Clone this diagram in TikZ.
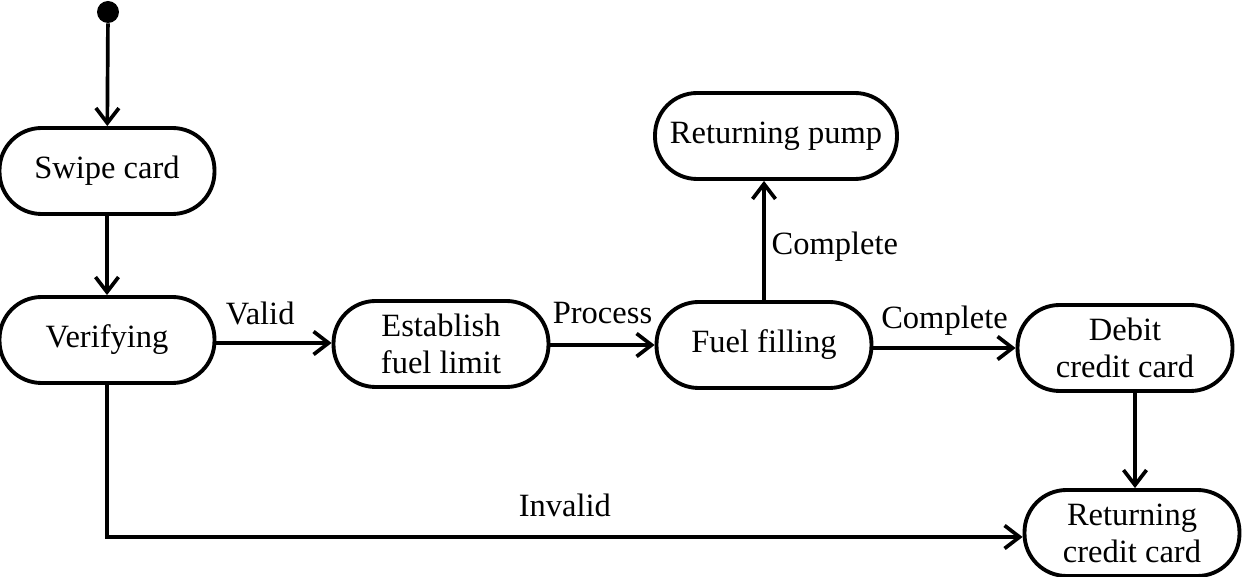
\documentclass[tikz,border=0pt]{standalone}
\usepackage{fontspec}
\setmainfont{Liberation Serif}
\usepackage{tikz}
\usetikzlibrary{shapes,positioning,calc}
\usetikzlibrary{arrows.meta}
\tikzstyle{arrow} = [line width=2.1pt,-{Straight Barb[length=3mm,width=4.6mm]}]

\begin{document}
\begin{tikzpicture}[x=0.02cm,y=-0.02cm,
	state/.style={rectangle, draw, line width=2.2pt, rounded corners=0.84cm, minimum width=4.3cm, minimum height=1.72cm, align=center, font=\fontsize{18.5}{21}\selectfont, inner sep=1pt},
	guard/.style={font=\fontsize{18.5}{21}\selectfont}]
			
			\useasboundingbox (0,0) rectangle (1242,577);
			
			% STATES
			
			\node [circle, fill, inner sep=0pt, minimum size=0.44cm] (start) at (108,12) {};
			
			\node [state] (swipecard) at (107,171) {Swipe card};
			\node [state] (verifying) at (107,340) {Verifying};
			\node [state] (fuellimit) at (441,344) {Establish\\fuel limit};
			\node [state] (fuelfilling) at (764,345) {Fuel filling};
			\node [state, minimum width=4.84cm] (returningpump) at (776,136) {Returning pump};
			\node [state] (debitcard) at (1125,348) {Debit\\credit card};
			\node [state] (returningcard) at (1132,533) {Returning\\credit card};
			
			% TRANSITIONS
			
			\draw [arrow] (start) -- (swipecard);
			\draw [arrow] (swipecard) -- (verifying);
			\draw [arrow] (verifying.east |- 0,343) -- (fuellimit.west |- 0,343) node [guard, pos=0.38, above=0.2cm] {Valid};
			\draw [arrow] (fuellimit.east |- 0,345) -- (fuelfilling.west |- 0,345) node [guard, midway, above=0.26cm] {Process};
			\draw [arrow] (fuelfilling.north) -- (fuelfilling.north |- returningpump.south) node [guard, pos=0.45, right] {Complete};
			\draw [arrow] (fuelfilling.east |- 0,348) -- (debitcard.west |- 0,348) node [guard, midway, above=0.1cm] {Complete};
			\draw [arrow] (debitcard.south -| 1135,0) -- (returningcard.north -| 1135,0);
			\draw [arrow] (verifying.south) |- (returningcard.west |- 0,537) node [guard, pos=0.75, above=0.25cm] {Invalid};
			
\end{tikzpicture}
\end{document}
